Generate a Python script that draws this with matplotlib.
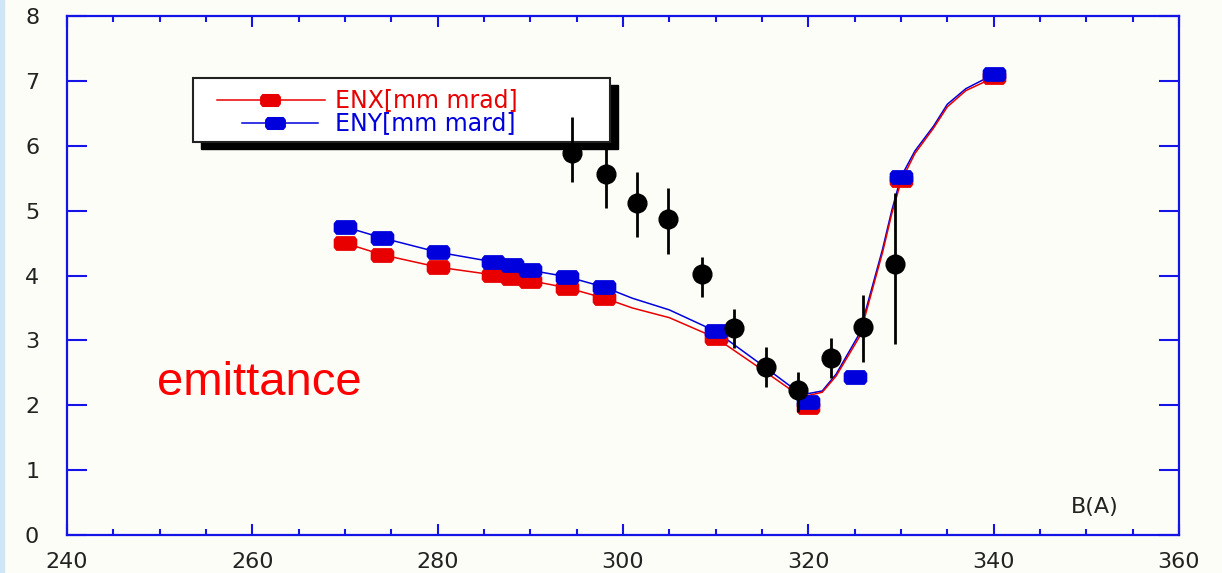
import matplotlib
matplotlib.use("Agg")
import matplotlib.pyplot as plt
from matplotlib.lines import Line2D
from matplotlib.markers import MarkerStyle
from matplotlib.patches import Rectangle
from matplotlib.path import Path
from matplotlib.ticker import MultipleLocator

# --- data ---
b_enx = [270, 274, 280, 286, 288, 290, 294, 298, 310, 320, 330, 340]
enx = [4.50, 4.32, 4.13, 4.01, 3.96, 3.92, 3.81, 3.65, 3.04, 1.98, 5.47, 7.06]

b_eny = [270, 274, 280, 286, 288, 290, 294, 298, 310, 320, 325, 330, 340]
eny = [4.75, 4.58, 4.36, 4.21, 4.16, 4.08, 3.98, 3.82, 3.14, 2.05, 2.44, 5.52, 7.11]

# fitted curves
b_fit = [270, 274, 280, 286, 288, 290, 294, 298, 301, 305, 310, 315, 318, 320,
         321.5, 323, 325.5, 328, 329, 330, 331.5, 333.5, 335, 337, 340]
enx_fit = [4.50, 4.32, 4.13, 4.01, 3.96, 3.92, 3.81, 3.65, 3.50, 3.35, 3.04, 2.55,
           2.25, 2.15, 2.20, 2.45, 3.05, 4.35, 4.95, 5.45, 5.88, 6.27, 6.60, 6.85, 7.05]
eny_fit = [4.75, 4.58, 4.36, 4.21, 4.16, 4.08, 3.98, 3.82, 3.65, 3.47, 3.14, 2.62,
           2.30, 2.18, 2.22, 2.48, 3.10, 4.40, 5.00, 5.52, 5.92, 6.30, 6.64, 6.88, 7.10]

# measured points with error bars
b_meas = [294.5, 298.2, 301.5, 304.9, 308.5, 312.0, 315.4, 318.9, 322.4, 325.9, 329.4]
meas = [5.89, 5.56, 5.12, 4.87, 4.02, 3.19, 2.59, 2.24, 2.73, 3.21, 4.18]
err_lo = [0.45, 0.52, 0.52, 0.54, 0.35, 0.31, 0.31, 0.34, 0.31, 0.54, 1.24]
err_hi = [0.55, 0.45, 0.48, 0.48, 0.27, 0.29, 0.31, 0.27, 0.31, 0.49, 1.09]

RED = "#e80000"
BLUE = "#0000dd"
AXBLUE = "#1414e6"
BG = "#fdfdf8"

# wide rounded-box marker used by the original program
box = Path([(-1, -0.35), (-0.8, -0.6), (0.8, -0.6), (1, -0.35), (1, 0.35),
            (0.8, 0.6), (-0.8, 0.6), (-1, 0.35), (-1, -0.35)], closed=True)
box_marker = MarkerStyle(box)

fig = plt.figure(figsize=(12.22, 5.73), dpi=100, facecolor=BG)
ax = fig.add_axes([67 / 1222, 38 / 573, 1112 / 1222, 519 / 573])
ax.set_facecolor(BG)
fig.patches.append(Rectangle((0, 0), 4 / 1222, 1, transform=fig.transFigure,
                             color="#cfe6f6", zorder=0))

ax.plot(b_fit, enx_fit, color=RED, lw=1.1, zorder=3)
ax.plot(b_fit, eny_fit, color=BLUE, lw=1.1, zorder=2)
ax.plot(b_enx, enx, ls="none", marker=box_marker, ms=16, color=RED, zorder=4)
ax.plot(b_eny, eny, ls="none", marker=box_marker, ms=16, color=BLUE, zorder=5)

ax.errorbar(b_meas, meas, yerr=[err_lo, err_hi], fmt="o", ms=13.5, color="black",
            ecolor="black", elinewidth=2, capsize=0, zorder=10)

ax.set_xlim(240, 360)
ax.set_ylim(0, 8)
ax.xaxis.set_major_locator(MultipleLocator(20))
ax.xaxis.set_minor_locator(MultipleLocator(5))
ax.yaxis.set_major_locator(MultipleLocator(1))

for s in ax.spines.values():
    s.set_color(AXBLUE)
    s.set_linewidth(1.6)

ax.tick_params(axis="both", which="both", direction="in", top=True, right=True,
               color=AXBLUE, width=1.5, labelcolor="#222222", labelsize=16)
ax.tick_params(axis="x", which="major", length=8, pad=12)
ax.tick_params(axis="x", which="minor", length=4.3)
ax.tick_params(axis="y", which="major", length=14.4, pad=20)
for lab in ax.get_xticklabels() + ax.get_yticklabels():
    lab.set_family("DejaVu Sans")

ax.text(350.9, 0.43, "B(A)", ha="center", va="center", fontsize=16,
        color="#222222", family="DejaVu Sans")
ax.text(260.8, 2.16, "emittance", ha="center", va="baseline", fontsize=34,
        color="#ff0000", family="Liberation Sans")

# legend box with a hard black shadow, placed in pixel space
px = fig.dpi_scale_trans


def pt(x, y):
    return x / 100, (573 - y) / 100


ax.add_patch(Rectangle(pt(201, 149), 417 / 100, 64 / 100, transform=px,
                       facecolor="black", edgecolor="black", clip_on=False, zorder=7))
ax.add_patch(Rectangle(pt(193, 142), 417 / 100, 64 / 100, transform=px,
                       facecolor="white", edgecolor="#222222", lw=1.5,
                       clip_on=False, zorder=8))
for (x0, x1, xm, y, c, label) in [(217, 325, 270, 100, RED, "ENX[mm mrad]"),
                                   (242, 318, 275, 123, BLUE, "ENY[mm mard]")]:
    ax.add_line(Line2D([pt(x0, y)[0], pt(x1, y)[0]], [pt(x0, y)[1]] * 2,
                       transform=px, color=c, lw=1.1, clip_on=False, zorder=9))
    ax.add_line(Line2D([pt(xm, y)[0]], [pt(xm, y)[1]], transform=px, ls="none",
                       marker=box_marker, ms=14, color=c, clip_on=False, zorder=9))
    ax.text(*pt(335, y), label, transform=px, ha="left", va="center",
            fontsize=17, color=c, family="DejaVu Sans", zorder=9)

fig.savefig("out.png", dpi=100, facecolor=BG)
